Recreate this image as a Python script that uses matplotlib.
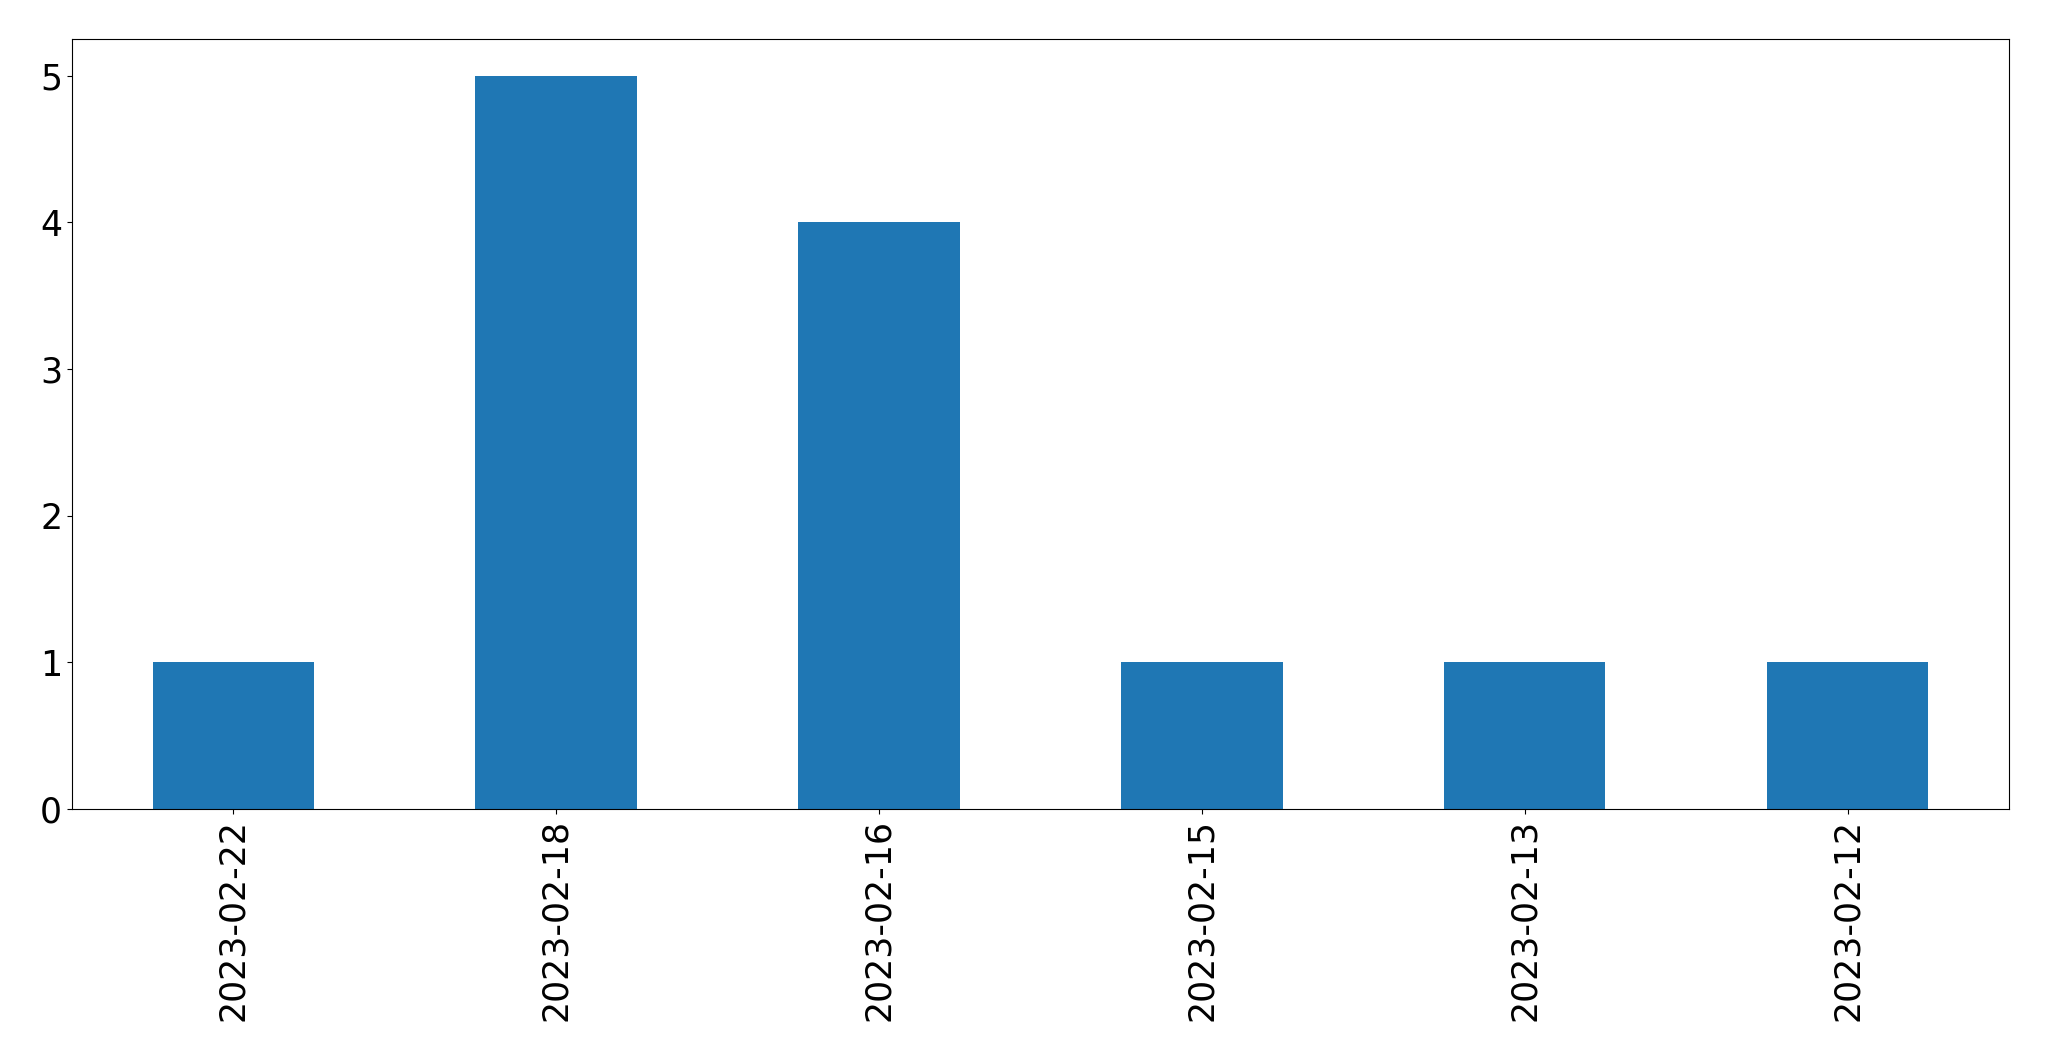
import matplotlib
matplotlib.use('Agg')
import matplotlib.pyplot as plt
import pandas as pd

dates = ['2023-02-22', '2023-02-18', '2023-02-16', '2023-02-15', '2023-02-13', '2023-02-12']
counts = [1, 5, 4, 1, 1, 1]

s = pd.Series(counts, index=dates)

fig = plt.figure(figsize=(20.49, 10.61), dpi=100)
ax = fig.add_axes([0.0351, 0.2375, 0.9454, 0.7257])
s.plot.bar(ax=ax, color='#1f77b4')
ax.tick_params(labelsize=25)

fig.savefig('out.png', dpi=100)
